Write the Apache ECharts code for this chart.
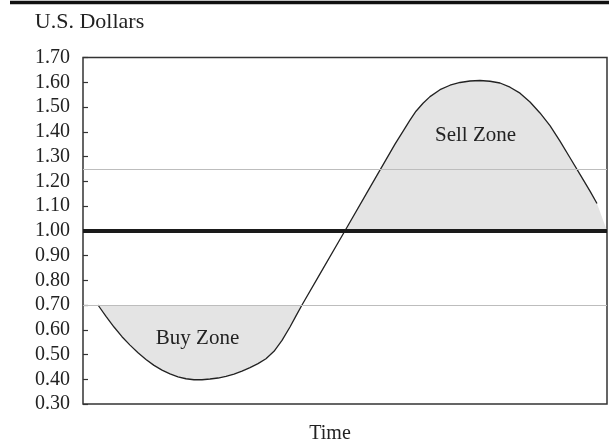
<!DOCTYPE html>
<html><head><meta charset="utf-8">
<script src="https://cdn.jsdelivr.net/npm/echarts@6/dist/echarts.min.js"></script>
<style>html,body{margin:0;padding:0;background:#fff}#c{width:609px;height:445px}</style>
</head><body><div id="c"></div>
<script>
// ---- data ----
const yMin = 0.30, yMax = 1.70, yStep = 0.10;
const curveTime  = [2.86, 4.39, 5.92, 7.44, 8.97, 10.50, 12.02, 13.55, 15.08, 16.60, 18.13, 19.66, 21.18, 22.71, 24.24, 25.76, 27.29, 28.82, 30.34, 31.87, 33.40, 34.92, 36.45, 37.98, 39.50, 40.65, 41.79, 45.23, 50.00, 54.77, 59.54, 61.45, 62.40, 63.55, 64.89, 66.22, 68.13, 70.04, 71.95, 73.85, 75.76, 77.67, 79.58, 81.49, 83.40, 85.31, 87.21, 89.12, 91.03, 92.94, 94.85, 96.76, 98.09];
const curveValue = [0.700, 0.654, 0.611, 0.572, 0.538, 0.507, 0.480, 0.456, 0.437, 0.422, 0.410, 0.402, 0.398, 0.398, 0.401, 0.405, 0.412, 0.421, 0.433, 0.447, 0.463, 0.483, 0.513, 0.557, 0.611, 0.656, 0.700, 0.826, 1.000, 1.175, 1.350, 1.415, 1.447, 1.483, 1.515, 1.542, 1.570, 1.588, 1.599, 1.605, 1.607, 1.604, 1.597, 1.580, 1.556, 1.520, 1.476, 1.425, 1.362, 1.295, 1.228, 1.160, 1.110];
const buyLevel = 0.70;
const parLevel = 1.00;
const upperLevel = 1.25;
const sellFillEnd = [100, 1.00];
const labels = { yTitle: 'U.S. Dollars', xTitle: 'Time', buy: 'Buy Zone', sell: 'Sell Zone' };

// ---- build ----
const curve = curveTime.map((t, i) => [t, curveValue[i]]);
const buyPts = curve.filter(p => p[0] <= 42);
const sellPts = curve.filter(p => p[0] >= 50).concat([sellFillEnd]);

const FONT = '"Liberation Serif", "Times New Roman", serif';
const fill = '#e4e4e4';

function zone(points) {
  return {
    type: 'custom', data: [[0, yMin]], silent: true, z: 1, clip: true,
    renderItem: (params, api) => ({
      type: 'polygon',
      shape: { points: points.map(p => api.coord(p)) },
      style: { fill: fill, stroke: null }
    })
  };
}

const chart = echarts.init(document.getElementById('c'), null, { renderer: 'canvas' });
chart.setOption({
  animation: false,
  backgroundColor: '#fff',
  grid: { left: 83, right: 2, top: 57.5, bottom: 41, show: true, borderColor: '#333', borderWidth: 1.5, backgroundColor: 'transparent' },
  xAxis: { type: 'value', min: 0, max: 100, axisLine: { show: false }, axisTick: { show: false }, axisLabel: { show: false }, splitLine: { show: false } },
  yAxis: {
    type: 'value', min: yMin, max: yMax, interval: yStep,
    axisLine: { show: false },
    axisTick: { show: true, inside: true, length: 5, lineStyle: { color: '#333', width: 1.2 } },
    splitLine: { show: false },
    axisLabel: { formatter: v => v.toFixed(2), fontFamily: FONT, fontSize: 20, color: '#222', margin: 13 }
  },
  series: [
    zone(buyPts),
    zone(sellPts),
    {
      type: 'line', data: curve, symbol: 'none', silent: true, z: 3,
      lineStyle: { color: '#222', width: 1.3 },
      markLine: {
        silent: true, symbol: ['none', 'none'], label: { show: false }, animation: false,
        data: [
          { yAxis: buyLevel, lineStyle: { color: '#bdbdbd', width: 1.2, type: 'solid' } },
          { yAxis: upperLevel, lineStyle: { color: '#bdbdbd', width: 1.2, type: 'solid' } },
          { yAxis: parLevel, lineStyle: { color: '#1a1a1a', width: 4, type: 'solid' } }
        ]
      }
    }
  ],
  graphic: [
    { type: 'line', shape: { x1: 10, y1: 2.5, x2: 609, y2: 2.5 }, style: { stroke: '#111', lineWidth: 3.5 } },
    { type: 'text', x: 89.5, y: 22, style: { text: labels.yTitle, font: '22px ' + FONT, fill: '#222', textAlign: 'center', textVerticalAlign: 'middle', align: 'center', verticalAlign: 'middle' } },
    { type: 'text', x: 330, y: 434, style: { text: labels.xTitle, font: '20px ' + FONT, fill: '#222', textAlign: 'center', textVerticalAlign: 'middle', align: 'center', verticalAlign: 'middle' } },
    { type: 'text', x: 197.5, y: 338, z: 10, style: { text: labels.buy, font: '21px ' + FONT, fill: '#222', textAlign: 'center', textVerticalAlign: 'middle', align: 'center', verticalAlign: 'middle' } },
    { type: 'text', x: 475.5, y: 135, z: 10, style: { text: labels.sell, font: '21px ' + FONT, fill: '#222', textAlign: 'center', textVerticalAlign: 'middle', align: 'center', verticalAlign: 'middle' } }
  ]
});
</script>
</body></html>
